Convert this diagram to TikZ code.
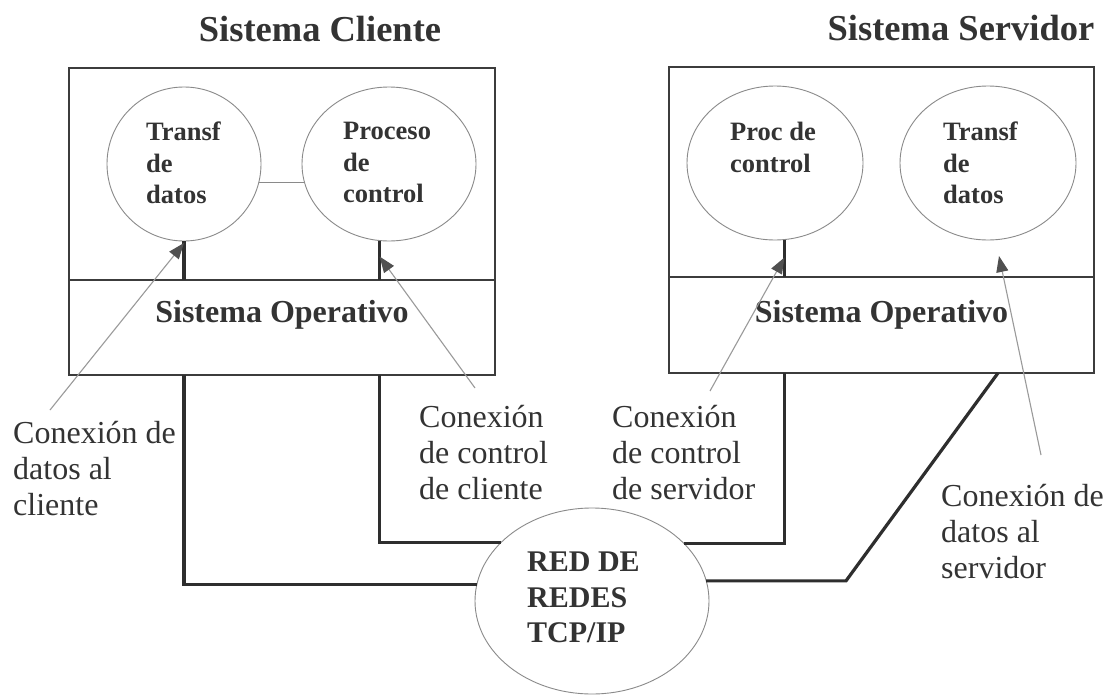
\documentclass[tikz,border=0pt]{standalone}
\usepackage{fontspec}
\setmainfont{Liberation Serif}
\usetikzlibrary{shapes.geometric,arrows.meta}
\definecolor{ink}{HTML}{333333}
\definecolor{framegray}{HTML}{3C3C3C}
\definecolor{wiregray}{HTML}{2E2E2E}
\definecolor{ringgray}{HTML}{8A8A8A}
\definecolor{callgray}{HTML}{9A9A9A}
\definecolor{tipgray}{HTML}{505050}
\begin{document}
\begin{tikzpicture}[x=1pt,y=-1pt,
  sysbox/.style={rectangle, draw=framegray, line width=2.6pt, inner sep=0pt, outer sep=0pt},
  proc/.style={ellipse, draw=ringgray, line width=0.9pt, inner sep=0pt, outer sep=0pt},
  wire/.style={draw=wiregray, line width=3.2pt},
  link/.style={draw=ringgray, line width=0.9pt},
  callout/.style={draw=callgray, line width=1.1pt, -{Triangle[length=16pt,width=12pt,color=tipgray]}},
  title/.style={font=\bfseries\fontsize{36.5}{40}\selectfont, text=ink, inner sep=0pt},
  oslbl/.style={font=\bfseries\fontsize{32}{36}\selectfont, text=ink, inner sep=0pt},
  inlbl/.style={align=left, font=\bfseries\fontsize{26.5}{31.5}\selectfont, text=ink, inner sep=0pt},
  netlbl/.style={align=left, font=\bfseries\fontsize{30}{35.5}\selectfont, text=ink, inner sep=0pt},
  calllbl/.style={align=left, font=\fontsize{32}{36}\selectfont, text=ink, inner sep=0pt}]
\fill[white] (0,0) rectangle (1114,696);
\useasboundingbox (0,0) rectangle (1114,696);

% titles
\node[title] (tC) at (320,29) {Sistema Cliente};
\node[title] (tS) at (961,28) {Sistema Servidor};

% client and server frames (process area above, operating system below)
\node[sysbox, minimum width=426pt, minimum height=212pt] (cliU) at (282,174) {};
\node[sysbox, minimum width=426pt, minimum height=95pt, anchor=north] (cliL) at (cliU.south) {};
\node[sysbox, minimum width=425pt, minimum height=210pt] (srvU) at (881.5,172) {};
\node[sysbox, minimum width=425pt, minimum height=96pt, anchor=north] (srvL) at (srvU.south) {};
\node[oslbl, anchor=base] (osC) at (282,322) {Sistema Operativo};
\node[oslbl, anchor=base] (osS) at (881.5,322) {Sistema Operativo};

% processes
\node[proc, minimum width=154pt, minimum height=154pt] (c1) at (184,164) {};
\node[proc, minimum width=174pt, minimum height=154pt] (c2) at (389,164) {};
\node[proc, minimum width=176pt, minimum height=154pt] (s1) at (775,163) {};
\node[proc, minimum width=176pt, minimum height=154pt] (s2) at (988,163) {};
\node[proc, minimum width=234pt, minimum height=186pt] (net) at (592,601) {};

\node[inlbl, anchor=north west] (c1t) at (146,122) {Transf\\de\\datos};
\node[inlbl, anchor=north west] (c2t) at (343,122) {Proceso\\de\\control};
\node[inlbl, anchor=north west] (s1t) at (730,122) {Proc de\\control};
\node[inlbl, anchor=north west] (s2t) at (943,122) {Transf\\de\\datos};
\node[netlbl, anchor=north west] (nett) at (527,552) {RED DE\\REDES\\TCP/IP};

% link between the two client processes
\draw[link] (c1.346) -- (c2.194 |- c1.346);

% connections down to the operating system
\draw[wire] (c1.south) -- (c1.south |- cliU.south);
\draw[wire] (c2.263) -- (c2.263 |- cliU.south);
\draw[wire] (s1.277) -- (s1.277 |- srvU.south);

% connections to the network
\coordinate (sdx) at (998,0);
\coordinate (kx) at (846,0);
\draw[wire] (c1.south |- cliL.south) |- (net.172);
\draw[wire] (c2.263 |- cliL.south) |- (net.147.6);
\draw[wire] (s1.277 |- srvL.south) |- (net.32.4);
\draw[wire] (sdx |- srvL.south) -- (net.10 -| kx) -- (net.10);

% callout labels
\node[calllbl, anchor=north west] (lc1) at (13,421) {Conexión de\\datos al\\cliente};
\node[calllbl, anchor=north west] (lc2) at (419,405) {Conexión\\de control\\de cliente};
\node[calllbl, anchor=north west] (ls1) at (612,405) {Conexión\\de control\\de servidor};
\node[calllbl, anchor=north west] (ls2) at (941,484) {Conexión de\\datos al\\servidor};

% callout pointers
\coordinate (p1) at (50,410);
\coordinate (p2) at (475,388);
\coordinate (p3) at (710,391);
\coordinate (p4) at (1041,455);
\coordinate (q4) at (999,256);
\draw[callout] (p1) -- ([yshift=-2pt]c1.south);
\draw[callout] (p2) -- ([yshift=-16pt]c2.263);
\draw[callout] (p3) -- ([yshift=-18pt]s1.277);
\draw[callout] (p4) -- (q4);
\end{tikzpicture}
\end{document}
